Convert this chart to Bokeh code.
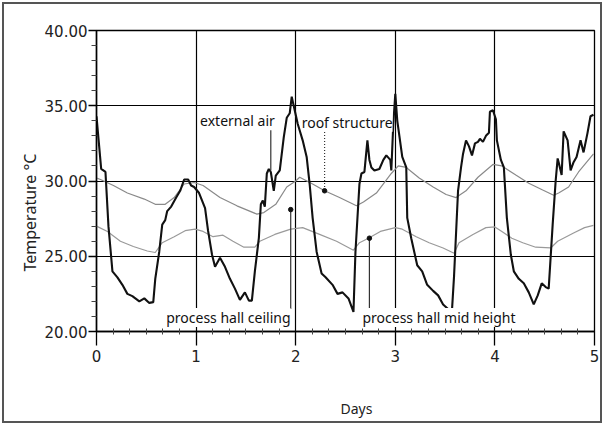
import numpy as np
from bokeh.plotting import figure
from bokeh.models import FixedTicker, PrintfTickFormatter, Label, Title, LinearAxis
from bokeh.embed import file_html
from bokeh.resources import INLINE

# ---------------- data ----------------
ext_day = [0.00, 0.047, 0.09, 0.12, 0.16, 0.21, 0.26, 0.31, 0.36, 0.43, 0.48, 0.53, 0.57, 0.59, 0.63, 0.66, 0.69, 0.71, 0.75, 0.80,
           0.84, 0.88, 0.92, 0.95, 0.98, 1.03, 1.09, 1.12, 1.16, 1.19, 1.24, 1.29, 1.34, 1.39, 1.44, 1.49, 1.53, 1.56, 1.59, 1.63,
           1.65, 1.67, 1.69, 1.71, 1.73, 1.75, 1.78, 1.80, 1.84, 1.88, 1.91, 1.94, 1.96, 1.99, 2.02, 2.07, 2.11, 2.14, 2.17, 2.21,
           2.26, 2.30, 2.37, 2.42, 2.47, 2.53, 2.58, 2.60, 2.64, 2.66, 2.69, 2.72, 2.74, 2.76, 2.79, 2.84, 2.88, 2.91, 2.95, 2.96,
           2.98, 3.00, 3.02, 3.07, 3.11, 3.12, 3.16, 3.19, 3.22, 3.27, 3.32, 3.38, 3.43, 3.48, 3.53, 3.57, 3.59, 3.63, 3.66, 3.68,
           3.71, 3.74, 3.77, 3.80, 3.83, 3.85, 3.88, 3.91, 3.94, 3.95, 3.98, 4.01, 4.02, 4.06, 4.09, 4.12, 4.16, 4.19, 4.24, 4.29,
           4.34, 4.39, 4.43, 4.47, 4.51, 4.54, 4.58, 4.61, 4.63, 4.64, 4.67, 4.69, 4.73, 4.76, 4.79, 4.82, 4.86, 4.89, 4.93, 4.96,
           4.99]
ext_temp = [34.3, 30.8, 30.6, 27.0, 24.0, 23.6, 23.1, 22.5, 22.35, 22.0, 22.2, 21.9, 21.95, 23.5, 25.3, 27.1, 27.4, 28.0, 28.3, 28.9,
            29.35, 30.1, 30.1, 29.7, 29.6, 29.2, 28.2, 26.7, 25.1, 24.3, 24.9, 24.3, 23.5, 22.85, 22.1, 22.6, 22.05, 22.05, 24.0, 26.2,
            28.45, 28.7, 28.3, 30.5, 30.8, 30.6, 29.35, 30.35, 30.7, 32.9, 34.2, 34.5, 35.6, 34.7, 33.8, 32.7, 31.6, 29.8, 27.55, 25.3,
            23.85, 23.6, 23.1, 22.5, 22.6, 22.2, 21.3, 25.3, 29.8, 30.5, 30.6, 32.7, 31.4, 30.9, 30.7, 30.8, 31.4, 31.7, 31.4, 30.7,
            33.8, 35.8, 34.0, 31.6, 30.9, 27.55, 26.2, 25.3, 24.4, 24.0, 23.1, 22.7, 22.4, 21.8, 21.5, 21.5, 23.7, 29.35, 30.9, 31.8,
            32.7, 32.3, 31.7, 32.5, 32.6, 32.8, 32.6, 33.0, 33.2, 34.6, 34.7, 34.1, 32.7, 31.4, 30.9, 27.55, 25.1, 24.0, 23.5, 23.2,
            22.6, 21.8, 22.4, 23.2, 22.95, 22.85, 27.1, 30.0, 31.5, 31.25, 30.4, 33.3, 32.7, 30.7, 31.25, 31.6, 32.7, 31.9, 33.2, 34.3,
            34.4]

roof_day = [0.0, 0.04, 0.17, 0.31, 0.48, 0.59, 0.69, 0.78, 0.88, 0.98, 1.07, 1.24, 1.41, 1.61, 1.68, 1.80, 1.91, 2.0, 2.04, 2.17,
            2.29, 2.44, 2.61, 2.68, 2.81, 2.96, 3.03, 3.11, 3.24, 3.38, 3.51, 3.61, 3.71, 3.83, 3.98, 4.07, 4.21, 4.34, 4.48, 4.59,
            4.64, 4.74, 4.84, 4.99]
roof_temp = [30.2, 30.1, 29.7, 29.2, 28.8, 28.45, 28.45, 28.9, 29.8, 29.9, 29.7, 28.9, 28.35, 27.8, 27.9, 28.45, 29.6, 30.0, 30.25, 29.8,
             29.35, 28.9, 28.35, 28.6, 29.2, 30.5, 31.0, 30.9, 30.2, 29.6, 29.1, 28.9, 29.35, 30.25, 31.1, 31.0, 30.4, 29.85, 29.4, 29.05,
             29.2, 29.6, 30.6, 31.8]

mid_day = [0.0, 0.11, 0.24, 0.37, 0.51, 0.59, 0.66, 0.78, 0.89, 0.99, 1.07, 1.17, 1.27, 1.37, 1.48, 1.59, 1.64, 1.79, 1.95, 2.07,
           2.24, 2.41, 2.58, 2.64, 2.73, 2.85, 3.0, 3.07, 3.21, 3.34, 3.48, 3.59, 3.64, 3.78, 3.91, 4.0, 4.07, 4.17, 4.28, 4.41,
           4.56, 4.63, 4.79, 4.90, 4.99]
mid_temp = [27.0, 26.65, 26.0, 25.65, 25.35, 25.25, 25.9, 26.3, 26.7, 26.8, 26.65, 26.3, 26.4, 26.0, 25.6, 25.6, 26.0, 26.45, 26.8, 26.9,
            26.45, 26.0, 25.4, 25.9, 26.2, 26.65, 26.9, 26.8, 26.3, 25.9, 25.55, 25.2, 25.9, 26.45, 26.9, 26.95, 26.65, 26.2, 25.9, 25.6,
            25.55, 26.0, 26.55, 26.9, 27.05]

assert len(ext_day) == len(ext_temp)
assert len(roof_day) == len(roof_temp)
assert len(mid_day) == len(mid_temp)

x_ticks = [0, 1, 2, 3, 4, 5]
y_ticks = [20, 25, 30, 35, 40]

# annotation texts and the points their pointers mark
ann_text = ["external air", "roof structure", "process hall ceiling", "process hall mid height"]
ann_x = [1.04, 2.06, 0.70, 2.67]
ann_y = [34.0, 33.9, 20.93, 20.93]
ptr_x = [1.75, 2.29, 1.95, 2.74]
ptr_y0 = [33.55, 33.25, 21.5, 21.5]
ptr_y1 = [30.7, 29.35, 28.1, 26.2]
ptr_dash = ["solid", "1 2", "solid", "solid"]

# ---------------- figure ----------------
p = figure(width=604, height=425, x_range=(0, 5), y_range=(20, 40),
           output_backend="svg", toolbar_location=None,
           min_border_left=96, min_border_right=10, min_border_top=30, min_border_bottom=94,
           background_fill_color="white", border_fill_color="white", border_fill_alpha=0.0)
p.styles = {"outline": "2px solid #555555", "outline-offset": "-4px"}

p.outline_line_color = "black"
p.outline_line_width = 1.3
p.outline_line_alpha = 1.0

p.xaxis.ticker = FixedTicker(ticks=x_ticks, minor_ticks=[i / 6 for i in range(31) if i % 6])
p.yaxis.ticker = FixedTicker(ticks=y_ticks, minor_ticks=[v for v in range(21, 40) if v % 5])
p.yaxis.formatter = PrintfTickFormatter(format="%.2f")

for ax in (p.xaxis, p.yaxis):
    ax.axis_line_color = "black"
    ax.axis_line_width = 1.5
    ax.major_tick_line_color = "black"
    ax.major_tick_line_width = 1.3
    ax.minor_tick_line_color = "#444444"
    ax.minor_tick_line_width = 1
    ax.major_tick_in = 0
    ax.major_label_text_font = "DejaVu Sans"
    ax.major_label_text_font_size = "15px"
    ax.major_label_text_color = "#222222"

p.xaxis.major_tick_out = 14
p.xaxis.minor_tick_in = 3
p.xaxis.minor_tick_out = 3
p.xaxis.major_label_standoff = 4
p.yaxis.major_tick_out = 8
p.yaxis.minor_tick_in = 0
p.yaxis.minor_tick_out = 5
p.yaxis.major_label_standoff = 1

# invisible spacer axis below the x axis, so the "Days" title sits lower
spacer = LinearAxis(ticker=FixedTicker(ticks=[2.5]), major_label_overrides={2.5: ""},
                    major_tick_out=24, major_tick_in=0, minor_tick_out=0, minor_tick_in=0,
                    major_label_standoff=0, major_label_text_font_size="1px",
                    axis_line_alpha=0, major_tick_line_alpha=0, minor_tick_line_alpha=0)
p.add_layout(spacer, "below")

# axis titles (as side titles so they can sit off-centre like the reference)
p.add_layout(Title(text="Temperature °C", align="left", offset=60, standoff=2,
                   text_font="Noto Sans", text_font_size="16px", text_font_style="normal",
                   text_color="#222222"), "left")
p.add_layout(Title(text="Days", align="left", offset=244, standoff=16,
                   text_font="Noto Sans", text_font_size="14px", text_font_style="normal",
                   text_color="#222222"), "below")

for g in (p.xgrid, p.ygrid):
    g.grid_line_color = "black"
    g.grid_line_width = 1.2
    g.grid_line_alpha = 1.0

# series
p.line(roof_day, roof_temp, line_color="#8a8a8a", line_width=1.2)
p.line(mid_day, mid_temp, line_color="#9a9a9a", line_width=1.2)
p.line(ext_day, ext_temp, line_color="#111111", line_width=2.1)

# annotation pointers
for i in range(len(ann_text)):
    p.segment(x0=[ptr_x[i]], y0=[ptr_y0[i]], x1=[ptr_x[i]], y1=[ptr_y1[i]],
              line_color="#333333", line_width=1.2, line_dash=ptr_dash[i])
p.scatter(ptr_x[1:], ptr_y1[1:], size=4.5, color="#111111")

for t, x, y in zip(ann_text, ann_x, ann_y):
    p.add_layout(Label(x=x, y=y, text=t, text_font="Noto Sans", text_font_size="14px",
                       text_color="#111111", text_baseline="middle", text_align="left",
                       background_fill_color="white", background_fill_alpha=1.0))

open("out.html", "w").write(file_html(p, INLINE))
